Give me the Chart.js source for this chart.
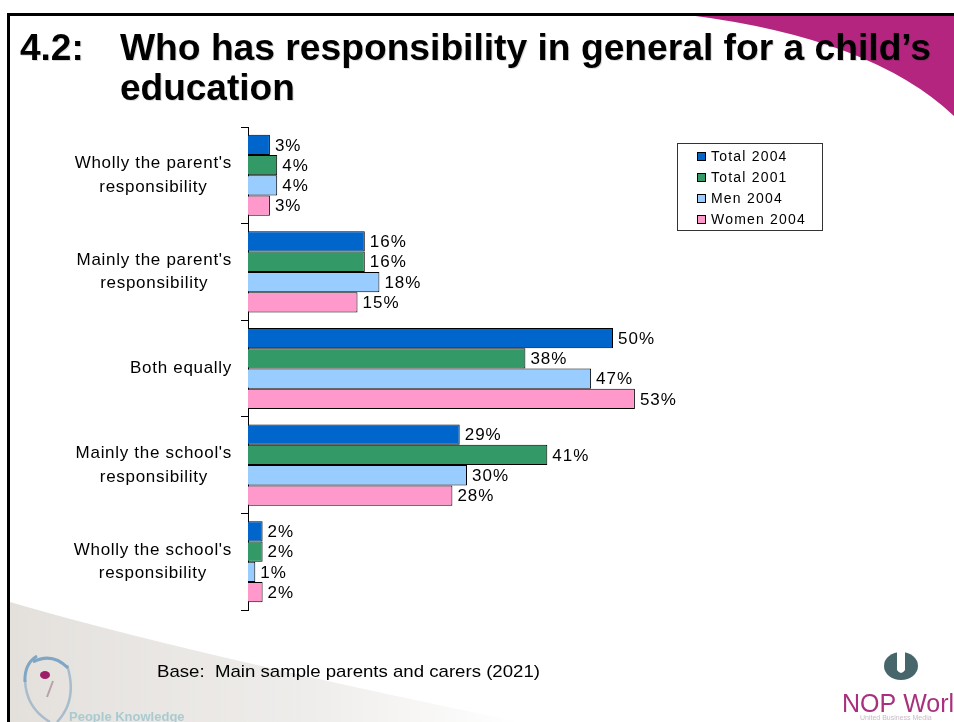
<html>
<head>
  <script src="https://cdn.jsdelivr.net/npm/chart.js@4.4.1/dist/chart.umd.min.js"></script>
  <title>Responsibility for a child's education</title>
  <style>
    body { margin:0; background:#fff; }
    canvas { display:block; }
  </style>
</head>
<body>
  <canvas id="bar-chart" width="954" height="722"></canvas>

  <script>
    // survey answers, one value per category for each series (percent)
    var categories = [
      ["Wholly the parent's", "responsibility"],
      ["Mainly the parent's", "responsibility"],
      ["Both equally"],
      ["Mainly the school's", "responsibility"],
      ["Wholly the school's", "responsibility"]
    ];
    var seriesNames = ["Total 2004", "Total 2001", "Men 2004", "Women 2004"];
    var total2004 = [3, 16, 50, 29, 2];
    var total2001 = [4, 16, 38, 41, 2];
    var men2004 = [4, 18, 47, 30, 1];
    var women2004 = [3, 15, 53, 28, 2];
    var seriesColors = ["#0066cc", "#339966", "#99ccff", "#ff99cc"];

    var FONT = '"Liberation Sans", Arial, sans-serif';

    // draws text stretched/squeezed to a given width
    function fitText(ctx, text, x, y, width) {
      var w = ctx.measureText(text).width;
      ctx.save();
      ctx.translate(x, y);
      ctx.scale(width / w, 1);
      ctx.fillText(text, 0, 0);
      ctx.restore();
    }

    var slidePlugin = {
      id: 'slide',
      beforeDraw: function(chart) {
        var ctx = chart.ctx;
        ctx.save();
        ctx.fillStyle = '#fff';
        ctx.fillRect(0, 0, 954, 722);

        // grey swoosh bottom left
        var g = ctx.createLinearGradient(0, 0, 520, 0);
        g.addColorStop(0, '#e3e0dc');
        g.addColorStop(0.6, '#efedeb');
        g.addColorStop(1, '#ffffff');
        ctx.fillStyle = g;
        ctx.beginPath();
        ctx.moveTo(10, 602);
        ctx.quadraticCurveTo(180, 652, 520, 722);
        ctx.lineTo(10, 722);
        ctx.closePath();
        ctx.fill();

        // purple swoosh top right
        ctx.fillStyle = '#b3257f';
        ctx.beginPath();
        ctx.moveTo(688, 15);
        ctx.quadraticCurveTo(872, 38, 954, 116);
        ctx.lineTo(954, 15);
        ctx.closePath();
        ctx.fill();

        // slide frame
        ctx.fillStyle = '#000';
        ctx.fillRect(7, 13, 947, 3);
        ctx.fillRect(7, 13, 3, 709);
        ctx.restore();
      },
      afterDatasetsDraw: function(chart) {
        var ctx = chart.ctx;
        ctx.save();
        ctx.font = '17px ' + FONT;
        ctx.letterSpacing = '1px';
        ctx.fillStyle = '#000';
        ctx.textBaseline = 'middle';
        ctx.textAlign = 'left';
        chart.data.datasets.forEach(function(ds, i) {
          chart.getDatasetMeta(i).data.forEach(function(bar, j) {
            ctx.fillText(ds.data[j] + '%', bar.x + 5, bar.y + 1);
          });
        });
        ctx.restore();
      },
      afterDraw: function(chart) {
        var ctx = chart.ctx;
        var yScale = chart.scales.y;
        ctx.save();

        // title
        ctx.fillStyle = '#000';
        ctx.font = 'bold 37px ' + FONT;
        ctx.textBaseline = 'alphabetic';
        ctx.shadowColor = 'rgba(0,0,0,0.15)';
        ctx.shadowOffsetX = 1;
        ctx.shadowOffsetY = 1;
        ctx.fillText('4.2:', 20, 60);
        fitText(ctx, 'Who has responsibility in general for a child\u2019s', 120, 60, 811);
        ctx.fillText('education', 120, 100);
        ctx.shadowColor = 'transparent';

        // category labels: block right aligned, lines centred
        ctx.font = '17px ' + FONT;
        ctx.letterSpacing = '0.7px';
        ctx.textBaseline = 'middle';
        ctx.textAlign = 'center';
        categories.forEach(function(lines, i) {
          var yc = yScale.getPixelForTick(i);
          var w = 0;
          lines.forEach(function(l) { w = Math.max(w, ctx.measureText(l).width); });
          var cx = 232 - w / 2;
          var top = yc - (lines.length - 1) * 23.5 / 2;
          lines.forEach(function(l, k) {
            ctx.fillText(l, cx, top + k * 23.5);
          });
        });

        // legend
        ctx.textAlign = 'left';
        ctx.fillStyle = '#fff';
        ctx.fillRect(677, 143, 146, 88);
        ctx.strokeStyle = '#333';
        ctx.lineWidth = 1;
        ctx.strokeRect(677.5, 143.5, 145, 87);
        ctx.font = '14px ' + FONT;
        ctx.letterSpacing = '1.2px';
        chart.data.datasets.forEach(function(ds, i) {
          var y = 157 + i * 21;
          ctx.fillStyle = ds.backgroundColor;
          ctx.fillRect(697.5, y - 4.5, 8, 8);
          ctx.strokeStyle = '#000';
          ctx.strokeRect(697.5, y - 4.5, 8, 8);
          ctx.fillStyle = '#000';
          ctx.fillText(ds.label, 711, y);
        });
        ctx.letterSpacing = '0px';

        // base note
        ctx.font = '17px ' + FONT;
        ctx.fillStyle = '#000';
        fitText(ctx, 'Base:  Main sample parents and carers (2021)', 157, 672, 383);

        // left logo
        ctx.strokeStyle = '#a9bccb';
        ctx.lineWidth = 2.5;
        ctx.beginPath();
        ctx.moveTo(25, 680);
        ctx.quadraticCurveTo(26, 708, 50, 722);
        ctx.moveTo(67, 665);
        ctx.quadraticCurveTo(78, 700, 57, 722);
        ctx.stroke();
        ctx.strokeStyle = '#7fa6c4';
        ctx.lineWidth = 3;
        ctx.beginPath();
        ctx.moveTo(25, 682);
        ctx.quadraticCurveTo(24, 664, 37, 656);
        ctx.moveTo(33, 662);
        ctx.quadraticCurveTo(52, 652, 68, 668);
        ctx.stroke();
        ctx.fillStyle = '#9c1f68';
        ctx.beginPath();
        ctx.ellipse(45, 675, 5, 4, 0, 0, Math.PI * 2);
        ctx.fill();
        ctx.strokeStyle = '#b7a0a8';
        ctx.lineWidth = 2;
        ctx.beginPath();
        ctx.moveTo(53, 681);
        ctx.lineTo(47, 697);
        ctx.stroke();
        ctx.font = 'bold 13px ' + FONT;
        ctx.fillStyle = '#a9cbd0';
        ctx.textBaseline = 'alphabetic';
        ctx.fillText('People Knowledge', 69, 721);

        // right logo
        ctx.fillStyle = '#46666b';
        ctx.beginPath();
        ctx.ellipse(901, 666, 17, 14, 0, 0, Math.PI * 2);
        ctx.fill();
        ctx.fillStyle = '#fff';
        ctx.beginPath();
        ctx.moveTo(897, 651);
        ctx.lineTo(897, 670);
        ctx.quadraticCurveTo(901, 676, 905, 670);
        ctx.lineTo(905, 651);
        ctx.closePath();
        ctx.fill();
        ctx.fillStyle = '#a8307c';
        ctx.font = '26px ' + FONT;
        fitText(ctx, 'NOP World', 842, 712, 126);
        ctx.font = '7px ' + FONT;
        ctx.fillStyle = '#c9bcc6';
        ctx.fillText('United Business Media', 860, 720);

        ctx.restore();
      }
    };

    var values = [total2004, total2001, men2004, women2004];
    var datasets = [];
    for (var i = 0; i < seriesNames.length; i++) {
      datasets.push({
        label: seriesNames[i],
        data: values[i],
        backgroundColor: seriesColors[i],
        borderColor: '#000',
        borderWidth: 1,
        barPercentage: 1.0,
        categoryPercentage: 0.84
      });
    }

    new Chart(document.getElementById('bar-chart'), {
      type: 'bar',
      data: {
        labels: categories,
        datasets: datasets
      },
      options: {
        indexAxis: 'y',
        responsive: false,
        animation: false,
        layout: { padding: { top: 127, bottom: 112, left: 0, right: 122 } },
        plugins: {
          legend: { display: false },
          tooltip: { enabled: false }
        },
        scales: {
          x: { min: 0, max: 80, display: false },
          y: {
            grid: { display: true, drawOnChartArea: false, drawTicks: true, tickLength: 7, color: '#000', offset: true },
            border: { display: true, color: '#000', width: 1 },
            ticks: { display: false },
            afterFit: function(scale) { scale.width = 248; }
          }
        }
      },
      plugins: [slidePlugin]
    });
  </script>
</body>
</html>
